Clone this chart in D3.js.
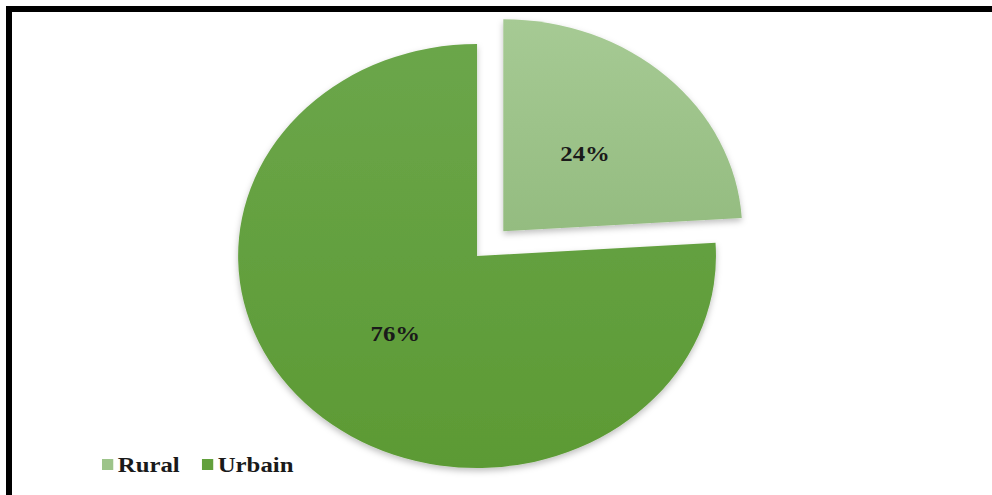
<!DOCTYPE html>
<html>
<head>
<meta charset="utf-8">
<script src="https://cdn.jsdelivr.net/npm/d3@7"></script>
<style>
  html, body { margin: 0; padding: 0; background: #fff; }
  svg { display: block; }
  .serif { font-family: "Times New Roman", "Liberation Serif", Tinos, Times, serif; font-weight: bold; }
</style>
</head>
<body>
<svg id="chart" width="992" height="495"></svg>
<script>
// Population split by area
const categories = ["Rural", "Urbain"];
const values = [24, 76];
const labels = ["24%", "76%"];

const W = 992, H = 495;
const svg = d3.select("#chart");

// Gradient fills and soft shadow
const defs = svg.append("defs");
const fills = [
  { id: "gRural", top: "#a6ca94", bottom: "#94bc80" },
  { id: "gUrbain", top: "#6ba64a", bottom: "#5c9a34" }
];
fills.forEach(f => {
  const g = defs.append("linearGradient").attr("id", f.id)
    .attr("x1", 0).attr("y1", 0).attr("x2", 0).attr("y2", 1);
  g.append("stop").attr("offset", "0%").attr("stop-color", f.top);
  g.append("stop").attr("offset", "100%").attr("stop-color", f.bottom);
});
const shadow = defs.append("filter").attr("id", "shadow")
  .attr("x", "-20%").attr("y", "-20%").attr("width", "140%").attr("height", "140%");
shadow.append("feDropShadow").attr("dx", 0).attr("dy", 3)
  .attr("stdDeviation", 3).attr("flood-color", "#000").attr("flood-opacity", 0.25);

// Frame: heavy top and left rules
svg.append("rect").attr("x", 6).attr("y", 6).attr("width", W - 6).attr("height", 6).attr("fill", "#000");
svg.append("rect").attr("x", 6).attr("y", 6).attr("width", 6).attr("height", H - 6).attr("fill", "#000");

// Chart body, widened horizontally
const sx = 1.127;
const body = svg.append("g").attr("transform", `scale(${sx},1)`);

const color = d3.scaleOrdinal().domain(categories).range(["url(#gRural)", "url(#gUrbain)"]);
const swatch = d3.scaleOrdinal().domain(categories).range(["#9dc48a", "#62a03c"]);

const r = 212;
const cx = 423.3, cy = 256;
const explode = { Rural: 34, Urbain: 0 };

const pie = d3.pie().sort(null).value(d => d.value);
const arc = d3.arc().innerRadius(0).outerRadius(r);
const data = pie(categories.map((c, i) => ({ name: c, value: values[i], label: labels[i] })));

const pieG = body.append("g").attr("transform", `translate(${cx},${cy})`);

const slices = pieG.selectAll("g.slice").data(data).join("g")
  .attr("class", "slice")
  .attr("transform", d => {
    const a = (d.startAngle + d.endAngle) / 2;
    const k = explode[d.data.name];
    return `translate(${Math.sin(a) * k},${-Math.cos(a) * k})`;
  });

slices.append("path")
  .attr("d", arc)
  .attr("fill", d => color(d.data.name))
  .attr("filter", "url(#shadow)");

slices.append("text")
  .attr("class", "serif")
  .attr("transform", d => `translate(${arc.centroid(d)})`)
  .attr("text-anchor", "middle")
  .attr("dy", "0.34em")
  .attr("font-size", 22)
  .attr("fill", "#1a1a1a")
  .text(d => d.data.label);

// Legend
const legendX = [90.5, 179.2];
const legend = body.append("g").selectAll("g").data(categories).join("g")
  .attr("transform", (d, i) => `translate(${legendX[i]},459)`);
legend.append("rect").attr("width", 10).attr("height", 11).attr("fill", d => swatch(d));
legend.append("text")
  .attr("class", "serif")
  .attr("x", 14).attr("y", 13)
  .attr("font-size", 22)
  .attr("fill", "#1a1a1a")
  .text(d => d);
</script>
</body>
</html>
